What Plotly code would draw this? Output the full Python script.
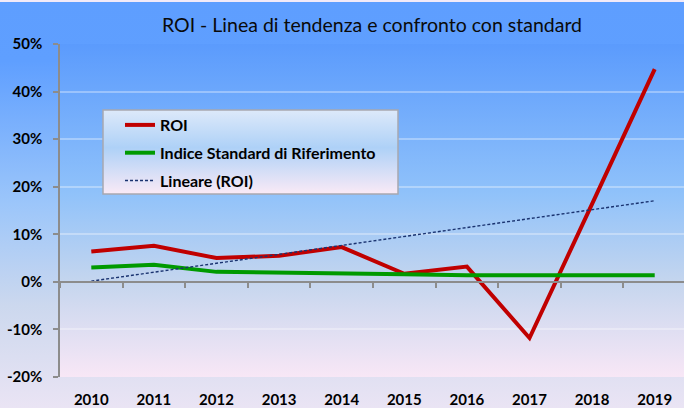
import base64
import plotly.graph_objects as go
import numpy as np

# ---------------- data ----------------
years = ["2010", "2011", "2012", "2013", "2014", "2015", "2016", "2017", "2018", "2019"]
roi = [0.064, 0.076, 0.050, 0.055, 0.073, 0.017, 0.032, -0.118, 0.164, 0.447]
standard = [0.030, 0.036, 0.021, 0.020, 0.018, 0.016, 0.014, 0.014, 0.014, 0.014]
y_tick_vals = [-0.2, -0.1, 0.0, 0.1, 0.2, 0.3, 0.4, 0.5]
y_tick_text = ["-20%", "-10%", "0%", "10%", "20%", "30%", "40%", "50%"]
title_text = "ROI - Linea di tendenza e confronto con standard"

# linear trendline (Excel "Lineare") computed from the ROI series
xi = np.arange(len(roi))
slope, intercept = np.polyfit(xi, roi, 1)
trend = list(slope * xi + intercept)

# ---------------- layout geometry ----------------
W, H = 684, 408
ML, MR, MT, MB = 60, 0, 44, 31
PW, PH = W - ML - MR, H - MT - MB
FONT = "Lato"


def grad_uri(stops):
    st = "".join(
        f'<stop offset="{o}" stop-color="{c}"/>' for o, c in stops
    )
    svg = (
        '<svg xmlns="http://www.w3.org/2000/svg" width="100" height="100" '
        'preserveAspectRatio="none" viewBox="0 0 100 100">'
        '<defs><linearGradient id="g" x1="0" y1="0" x2="0" y2="1">'
        f"{st}</linearGradient></defs>"
        '<rect x="0" y="0" width="100" height="100" fill="url(#g)"/></svg>'
    )
    return "data:image/svg+xml;base64," + base64.b64encode(svg.encode()).decode()


outer_bg = grad_uri([(0, "#5E9EFF"), (0.15, "#5F9FFF"), (0.5, "#9CC6FA"),
                     (0.75, "#CCD8EE"), (1, "#EAE4F4")])
plot_bg = grad_uri([(0, "#5B9BFD"), (0.45, "#90C2FA"), (0.72, "#C6D6EE"),
                    (1, "#F8E7F6")])
legend_bg = grad_uri([(0, "#DDE9FA"), (0.45, "#AED1F7"), (1, "#FAEAF6")])

# legend box in pixels (reference)
LX0, LX1, LY0, LY1 = 103, 398, 110, 194


def px_x(p):
    return (p - ML) / PW


def px_y(p):
    return (H - MB - p) / PH


fig = go.Figure()

fig.add_trace(go.Scatter(
    x=years, y=roi, name="ROI", mode="lines",
    line=dict(color="#C00000", width=4), legendgroup="a",
))
fig.add_trace(go.Scatter(
    x=years, y=standard, name="Indice Standard di Riferimento", mode="lines",
    line=dict(color="#009A00", width=4), legendgroup="b",
))
fig.add_trace(go.Scatter(
    x=years, y=trend, name="Lineare (ROI)", mode="lines",
    line=dict(color="#1A3370", width=1.4, dash="3px,2px"), legendgroup="c",
))
# helper trace carrying the category axis that crosses at 0%
fig.add_trace(go.Scatter(
    x=years, y=[None] * len(years), xaxis="x2", showlegend=False,
    hoverinfo="skip", mode="lines",
))

xrange = [-0.5, 9.5 - 2.0 / 62.4]

fig.update_layout(
    width=W, height=H,
    margin=dict(l=ML, r=MR, t=MT, b=MB),
    paper_bgcolor="#C8D8F0",
    plot_bgcolor="rgba(0,0,0,0)",
    font=dict(family=FONT, color="#000000"),
    title=dict(
        text=title_text, x=0.5, xref="paper", xanchor="center",
        y=1 - 25 / H, yanchor="middle",
        font=dict(family=FONT, size=19.5, color="#0A0A0A"),
    ),
    showlegend=True,
    legend=dict(
        x=px_x(120), y=px_y(108), xanchor="left", yanchor="top",
        bgcolor="rgba(0,0,0,0)", borderwidth=0,
        font=dict(family=FONT, size=16, color="#000000", weight="bold"),
        tracegroupgap=4,
    ),
    xaxis=dict(
        type="category", range=xrange, showgrid=False, showline=False,
        zeroline=False, ticks="outside", ticklen=9, tickcolor="rgba(0,0,0,0)",
        tickfont=dict(family=FONT, size=15, color="#000000", weight="bold"),
        fixedrange=True,
    ),
    xaxis2=dict(
        type="category", range=xrange, overlaying="x", anchor="free",
        position=(0 - (-0.2)) / 0.7, side="bottom",
        showline=True, linecolor="#8C8C8C", linewidth=1.5,
        ticks="outside", ticklen=5, tickcolor="#8C8C8C", tickwidth=1.5,
        tickson="boundaries", showticklabels=False, showgrid=False,
        zeroline=False,
    ),
    yaxis=dict(
        range=[-0.2, 0.5], tickmode="array", tickvals=y_tick_vals,
        ticktext=y_tick_text, showline=True, linecolor="#8C8C8C",
        linewidth=1.5, ticks="outside", ticklen=5, tickcolor="#8C8C8C",
        tickwidth=1.5, showgrid=True, gridcolor="rgba(255,255,255,0.32)",
        gridwidth=1.5, zeroline=False,
        tickfont=dict(family=FONT, size=15, color="#000000", weight="bold"),
        ticklabelstandoff=8,
        fixedrange=True,
    ),
    images=[
        dict(source=outer_bg, xref="paper", yref="paper",
             x=-ML / PW, y=1 + MT / PH, sizex=W / PW, sizey=H / PH,
             xanchor="left", yanchor="top", sizing="stretch", layer="below"),
        dict(source=plot_bg, xref="paper", yref="paper",
             x=0, y=1, sizex=1, sizey=1,
             xanchor="left", yanchor="top", sizing="stretch", layer="below"),
        dict(source=legend_bg, xref="paper", yref="paper",
             x=px_x(LX0), y=px_y(LY0), sizex=(LX1 - LX0) / PW,
             sizey=(LY1 - LY0) / PH,
             xanchor="left", yanchor="top", sizing="stretch", layer="above"),
    ],
    shapes=[
        dict(type="rect", xref="paper", yref="paper",
             x0=px_x(LX0), x1=px_x(LX1), y0=px_y(LY1), y1=px_y(LY0),
             line=dict(color="#A8A8B0", width=1.5), fillcolor="rgba(0,0,0,0)",
             layer="above"),
        dict(type="line", xref="paper", yref="paper",
             x0=-ML / PW, x1=1, y0=1 + (MT - 1) / PH, y1=1 + (MT - 1) / PH,
             line=dict(color="#F2EAF8", width=2), layer="below"),
    ],
)

fig.write_html(
    "out.html",
    config={"displayModeBar": False},
    post_script="document.body.style.margin='0';document.body.style.overflow='hidden';",
)
